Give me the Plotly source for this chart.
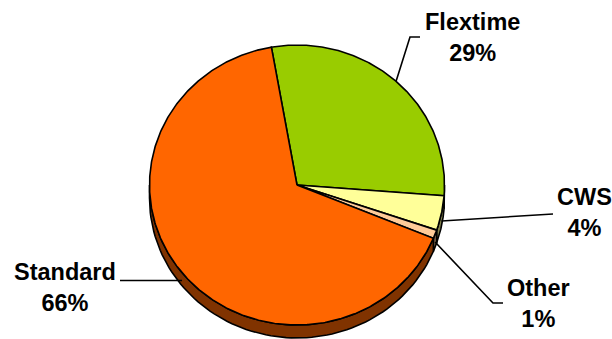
import numpy as np
import plotly.graph_objects as go

# Share of employees by work schedule
labels = ["Flextime", "CWS", "Other", "Standard"]
values = [29, 4, 1, 66]

face_colors = ["#99CC00", "#FFFF99", "#FFCC99", "#FF6600"]
side_colors = ["#4D6600", "#80804D", "#80664D", "#803300"]

W, H = 612, 339
cx, cy = 297, 185          # centre of the pie's top face (pixel space)
rx, ry = 147.5, 140        # tilted (elliptical) radii
depth = 13                 # thickness of the pie's rim
start_deg = -10            # first slice starts just left of 12 o'clock

# label anchor (centre of text block) and leader elbow for each slice
label_pos = {
    "Flextime": (472, 37),
    "CWS": (584, 212),
    "Other": (538, 303),
    "Standard": (65, 287),
}
leader_path = {
    "Flextime": [(410, 37), (420, 37)],
    "CWS": [(553, 214)],
    "Other": [(493, 303), (503, 303)],
    "Standard": [(120, None)],
}

total = sum(values)
bounds = start_deg + np.concatenate([[0], np.cumsum(values)]) / total * 360


def rim(theta_deg, dy=0.0):
    t = np.radians(theta_deg)
    return cx + rx * np.sin(t), cy - ry * np.cos(t) + dy


fig = go.Figure()
outline = dict(color="black", width=1.6)

# rim (side wall) of the pie: only the front half, 90..270 degrees, is visible
for i in range(len(values)):
    lo, hi = max(bounds[i], 90), min(bounds[i + 1], 270)
    if hi <= lo:
        continue
    th = np.linspace(lo, hi, 80)
    xt, yt = rim(th)
    xb, yb = rim(th[::-1], depth)
    xs = np.concatenate([xt, xb, xt[:1]])
    ys = np.concatenate([yt, yb, yt[:1]])
    fig.add_trace(go.Scatter(x=xs, y=ys, mode="lines", fill="toself",
                             fillcolor=side_colors[i], line=outline,
                             hoverinfo="skip", showlegend=False))

# top faces of the slices
for i in range(len(values)):
    n = max(int((bounds[i + 1] - bounds[i]) * 2), 8)
    th = np.linspace(bounds[i], bounds[i + 1], n)
    xa, ya = rim(th)
    xs = np.concatenate([[cx], xa, [cx]])
    ys = np.concatenate([[cy], ya, [cy]])
    fig.add_trace(go.Scatter(x=xs, y=ys, mode="lines", fill="toself",
                             fillcolor=face_colors[i], line=outline,
                             hoverinfo="text",
                             text=f"{labels[i]}: {values[i]}%",
                             showlegend=False))

# leader lines and labels
for i, name in enumerate(labels):
    mid = (bounds[i] + bounds[i + 1]) / 2
    lower = np.cos(np.radians(mid)) < 0
    sx, sy = rim(mid, depth * 0.6 if lower else 0)
    pts = [(sx, sy)] + [(px, sy if py is None else py) for px, py in leader_path[name]]
    fig.add_trace(go.Scatter(x=[p[0] for p in pts], y=[p[1] for p in pts],
                             mode="lines", line=dict(color="black", width=1.6),
                             hoverinfo="skip", showlegend=False))
    lx, ly = label_pos[name]
    pct = round(values[i] / total * 100)
    fig.add_annotation(x=lx, y=ly, text=f"<b>{name}<br>{pct}%</b>",
                       showarrow=False, xanchor="center", yanchor="middle",
                       align="center",
                       font=dict(family="Liberation Sans, Arial, sans-serif",
                                 size=23.5, color="black"))

fig.update_layout(
    width=W, height=H,
    margin=dict(l=0, r=0, t=0, b=0),
    paper_bgcolor="white", plot_bgcolor="white",
    xaxis=dict(range=[0, W], visible=False, fixedrange=True),
    yaxis=dict(range=[H, 0], visible=False, fixedrange=True),
)

fig.write_html("out.html")
